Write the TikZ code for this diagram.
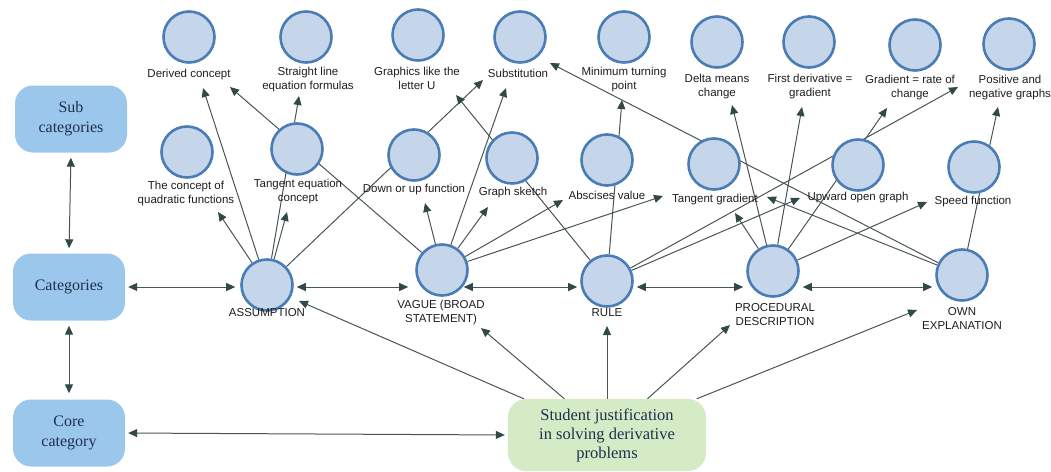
\documentclass[tikz,border=0pt]{standalone}
\usepackage{fontspec}
\setmainfont{Liberation Serif}
\newfontfamily\lblfont{Liberation Sans}
\usetikzlibrary{arrows.meta,backgrounds}
\definecolor{boxblue}{HTML}{9CC7EC}
\definecolor{boxgreen}{HTML}{D5EBC5}
\definecolor{circfill}{HTML}{C5D5EA}
\definecolor{circdraw}{HTML}{4A7CB5}
\definecolor{linec}{HTML}{4A5454}
\definecolor{tipc}{HTML}{2F4A48}
\definecolor{boxtext}{HTML}{1F2F4F}
\definecolor{lbltext}{HTML}{1E1E1E}
\begin{document}
\begin{tikzpicture}[x=1pt,y=-1pt,
  cbox/.style={draw=none, fill=boxblue, rounded corners=18pt, minimum width=112pt, minimum height=67pt, align=center, text=boxtext, font=\fontsize{16}{20}\selectfont, inner sep=0pt},
  sbox/.style={draw=none, fill=boxgreen, rounded corners=18pt, minimum width=198pt, minimum height=72pt, align=center, text=boxtext, font=\fontsize{16.5}{19}\selectfont, inner sep=0pt},
  circ/.style={circle, draw=circdraw, line width=2.6pt, fill=circfill, minimum size=51pt, inner sep=0pt},
  lbl/.style={align=center, text=lbltext, font=\lblfont\fontsize{11.5}{14}\selectfont, inner sep=1pt},
  arr/.style={draw=linec, line width=1pt, -{Triangle[length=9pt,width=8pt,color=tipc]}},
  dbl/.style={draw=linec, line width=1pt, {Triangle[length=9pt,width=8pt,color=tipc]}-{Triangle[length=9pt,width=8pt,color=tipc]}},
  ln/.style={draw=linec, line width=1pt}
]
\useasboundingbox (0,0) rectangle (1051,471);

% left boxes
\node[cbox] (sub) at (71,119) {Sub\\categories};
\node[cbox] (cat) at (69,287) {Categories};
\node[cbox] (core) at (69,433) {Core\\category};
\node[sbox] (stu) at (607,435) {Student justification\\in solving derivative\\problems};

% category circles
\node[circ] (as) at (267,285) {};
\node[circ] (va) at (442,270) {};
\node[circ] (ru) at (607,281) {};
\node[circ] (pr) at (773,271) {};
\node[circ] (ow) at (962,275) {};
\node[lbl] (asl) at (267,313) {ASSUMPTION};
\node[lbl] (val) at (441,313) {VAGUE (BROAD\\STATEMENT)};
\node[lbl] (rul) at (607,313) {RULE};
\node[lbl] (prl) at (775,315) {PROCEDURAL\\DESCRIPTION};
\node[lbl] (owl) at (962,319) {OWN\\EXPLANATION};

% top row
\node[circ] (dc) at (189,37) {};
\node[circ] (sl) at (306,37) {};
\node[circ] (gu) at (418,35) {};
\node[circ] (su) at (520,37) {};
\node[circ] (mt) at (624,37) {};
\node[circ] (dm) at (717,42) {};
\node[circ] (fd) at (809,42) {};
\node[circ] (gr) at (915,45) {};
\node[circ] (pn) at (1009,44) {};
\node[lbl] (dcl) at (189,75) {Derived concept};
\node[lbl] (sll) at (308,80) {Straight line\\equation formulas};
\node[lbl] (gul) at (417,78) {Graphics like the\\letter U};
\node[lbl] (sul) at (518,73) {Substitution};
\node[lbl] (mtl) at (624,80) {Minimum turning\\point};
\node[lbl] (dml) at (717,87) {Delta means\\change};
\node[lbl] (fdl) at (810,87) {First derivative =\\gradient};
\node[lbl] (grl) at (910,88) {Gradient = rate of\\change};
\node[lbl] (pnl) at (1010,88) {Positive and\\negative graphs};

% second row
\node[circ] (qf) at (187,152) {};
\node[circ] (te) at (297,149) {};
\node[circ] (du) at (414,155) {};
\node[circ] (gs) at (512,158) {};
\node[circ] (av) at (607,160) {};
\node[circ] (tg) at (714,164) {};
\node[circ] (uo) at (858,165) {};
\node[circ] (sf) at (974,167) {};
\node[lbl] (qfl) at (186,194) {The concept of\\quadratic functions};
\node[lbl] (tel) at (298,192) {Tangent equation\\concept};
\node[lbl] (dul) at (414,190) {Down or up function};
\node[lbl] (gsl) at (513,193) {Graph sketch};
\node[lbl] (avl) at (607,195) {Abscises value};
\node[lbl] (tgl) at (715,200) {Tangent gradient};
\node[lbl] (uol) at (858,198) {Upward open graph};
\node[lbl] (sfl) at (973,202) {Speed function};

% arrow tip coordinates
\coordinate (t1) at (218,212);
\coordinate (t2) at (203,88);
\coordinate (t3) at (287,212);
\coordinate (t4) at (299,96);
\coordinate (t5) at (483,80);
\coordinate (t6) at (230,87);
\coordinate (t7) at (425,203);
\coordinate (t8) at (506,88);
\coordinate (t9) at (488,207);
\coordinate (t10) at (563,200);
\coordinate (t11) at (663,196);
\coordinate (t12) at (456,95);
\coordinate (t13) at (622,100);
\coordinate (t14) at (800,198);
\coordinate (t15) at (958,87);
\coordinate (t16) at (735,213);
\coordinate (t17) at (732,105);
\coordinate (t18) at (802,107);
\coordinate (t19) at (887,108);
\coordinate (t20) at (927,202);
\coordinate (t21) at (550,63);
\coordinate (t22) at (767,197);
\coordinate (t23) at (998,107);
\coordinate (s1) at (299,301);
\coordinate (s2) at (481,328);
\coordinate (s3) at (607,326);
\coordinate (s4) at (730,325);
\coordinate (s5) at (917,310);

\begin{pgfonlayer}{background}
% left structure
\draw[dbl, shorten <=5pt, shorten >=5pt] (sub.south) -- (cat.north);
\draw[dbl, shorten <=5pt, shorten >=6pt] (cat.south) -- (core.north);
\draw[dbl, shorten <=3pt, shorten >=3pt] (core.east) -- (stu.west);
% category row
\draw[dbl, shorten <=3pt, shorten >=5pt] (cat.east |- 0,287) -- (as.west |- 0,287);
\draw[dbl, shorten <=3pt, shorten >=3pt] (as.east |- 0,287) -- ([xshift=-4pt]va.west |- 0,287);
\draw[dbl, shorten <=-5pt, shorten >=3pt] (va.east |- 0,287) -- (ru.west |- 0,287);
\draw[dbl, shorten <=3pt, shorten >=3pt] (ru.east |- 0,287) -- (pr.west |- 0,287);
\draw[dbl, shorten <=3pt, shorten >=3pt] (pr.east |- 0,287) -- (ow.west |- 0,287);
% student to categories
\draw[arr] (stu) -- (s1);
\draw[arr] (stu) -- (s2);
\draw[arr] (stu) -- (s3);
\draw[arr] (stu) -- (s4);
\draw[arr] (stu) -- (s5);
% assumption
\draw[arr] (as) -- (t1);
\draw[arr] (as) -- (t2);
\draw[arr] (as) -- (t3);
\draw[arr] (as) -- (t4);
\draw[arr] (as) -- (t5);
% vague
\draw[arr] (va) -- (t6);
\draw[arr] (va) -- (t7);
\draw[arr] (va) -- (t8);
\draw[arr] (va) -- (t9);
\draw[arr] (va) -- (t10);
\draw[arr] (va) -- (t11);
% rule
\draw[arr] (ru) -- (t12);
\draw[arr] (ru) -- (t13);
\draw[arr] (ru) -- (t14);
\draw[arr] (ru) -- (t15);
% procedural
\draw[arr] (pr) -- (t16);
\draw[arr] (pr) -- (t17);
\draw[arr] (pr) -- (t18);
\draw[arr] (pr) -- (t19);
\draw[arr] (pr) -- (t20);
% own explanation
\draw[arr] (ow) -- (t21);
\draw[arr] (ow) -- (t22);
\draw[arr] (ow) -- (t23);
\end{pgfonlayer}
\end{tikzpicture}
\end{document}
